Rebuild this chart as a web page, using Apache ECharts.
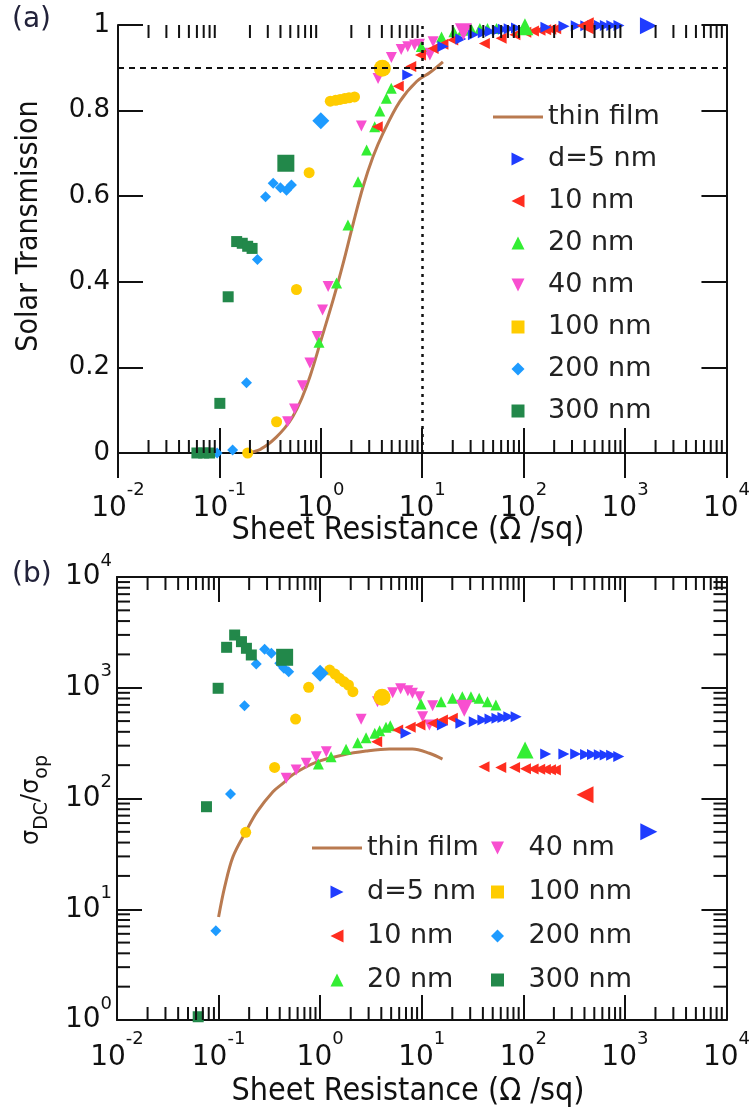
<!DOCTYPE html>
<html>
<head>
<meta charset="utf-8">
<script src="https://cdn.jsdelivr.net/npm/echarts@6/dist/echarts.min.js"></script>
<style>
  html, body { margin: 0; padding: 0; background: #fff; }
  #chart { width: 753px; height: 1116px; }
</style>
</head>
<body>
<div id="chart"></div>
<script>
// ---------- panel (a): sheet resistance (ohm/sq) vs solar transmission ----------
const filmA = [[0.19, 0.0], [0.24, 0.006], [0.3, 0.02], [0.36, 0.036], [0.44, 0.058], [0.53, 0.085], [0.65, 0.128],
  [0.78, 0.178], [1.0, 0.262], [1.32, 0.357], [1.66, 0.443], [2.08, 0.535], [2.61, 0.622], [3.27, 0.692],
  [4.1, 0.747], [6.0, 0.821], [8.8, 0.868], [11.9, 0.889], [16, 0.914]];
const d5A = [[7.2, 0.883], [16, 0.95], [24, 0.967], [32, 0.977], [40, 0.982], [47, 0.985], [55, 0.988], [63, 0.99],
  [72, 0.991], [85, 0.993], [166, 0.995], [250, 0.997], [330, 0.998], [410, 0.998], [480, 0.999], [560, 0.999],
  [640, 0.999], [740, 0.999], [870, 0.999]];
const d5ABig = [[1700, 0.998]];
const r10A = [[3.6, 0.762], [5.8, 0.857], [7.7, 0.903], [9.6, 0.93], [12.8, 0.945], [16, 0.955], [20, 0.965],
  [41, 0.957], [60, 0.969], [82, 0.977], [105, 0.983], [125, 0.986], [145, 0.988], [165, 0.989], [185, 0.99], [207, 0.991]];
const r10ABig = [[405, 0.998]];
const g20A = [[0.96, 0.259], [1.43, 0.397], [1.85, 0.533], [2.33, 0.634], [2.83, 0.708], [3.4, 0.762], [3.82, 0.799],
  [4.43, 0.829], [4.95, 0.852], [9.8, 0.95], [15.5, 0.972], [20.5, 0.984], [25, 0.988], [30.5, 0.99], [37, 0.992],
  [44, 0.992], [54, 0.992]];
const g20ABig = [[103, 0.996]];
const p40A = [[0.47, 0.073], [0.55, 0.103], [0.66, 0.157], [0.78, 0.21], [0.92, 0.272], [1.04, 0.334], [1.18, 0.389],
  [2.51, 0.764], [3.67, 0.875], [4.96, 0.924], [6.2, 0.943], [7.2, 0.949], [8.4, 0.953], [9.4, 0.955], [10.5, 0.934],
  [11.9, 0.93], [12.8, 0.961]];
const p40ABig = [[25.5, 0.984]];
const y100A = [[0.19, 0.0], [0.366, 0.073], [0.575, 0.382], [0.767, 0.655], [1.24, 0.822], [1.4, 0.824], [1.55, 0.826],
  [1.72, 0.828], [1.9, 0.83], [2.15, 0.832]];
const y100ABig = [[4.04, 0.899]];
const b200A = [[0.095, 0.0], [0.135, 0.007], [0.185, 0.164], [0.237, 0.452], [0.285, 0.599], [0.339, 0.63], [0.4, 0.62],
  [0.459, 0.614], [0.513, 0.626]];
const b200ABig = [[1.0, 0.776]];
const s300A = [[0.06, 0.0], [0.07, 0.0], [0.08, 0.0], [0.101, 0.116], [0.122, 0.365], [0.148, 0.494], [0.168, 0.49],
  [0.19, 0.483], [0.21, 0.478]];
const s300ABig = [[0.452, 0.677]];
const targetT = 0.9;
const targetR = 10;

// ---------- panel (b): sheet resistance vs sigma_DC / sigma_op ----------
const filmB = [[0.1, 8.5], [0.115, 16], [0.139, 30], [0.185, 50], [0.24, 76], [0.343, 115], [0.43, 137], [0.54, 165],
  [0.92, 213], [1.67, 247], [2.83, 268], [4.8, 280], [8.1, 280], [11.9, 256], [16, 227]];
const d5B = [[7.0, 388], [16, 461], [24.3, 477], [32.9, 494], [40, 512], [47, 522], [55, 530], [63, 540], [72, 548],
  [85, 548], [166, 252], [251, 252], [328, 252], [410, 250], [480, 249], [560, 248], [640, 247], [740, 246], [870, 240]];
const d5BBig = [[1720, 50]];
const r10B = [[3.6, 326], [5.8, 415], [7.7, 440], [9.6, 461], [12.8, 477], [16, 512], [20, 530], [41, 194], [60, 191],
  [82, 191], [105, 186], [125, 185], [145, 184], [165, 183], [185, 182], [207, 181]];
const r10BBig = [[405, 108]];
const g20B = [[0.96, 205], [1.28, 238], [1.8, 278], [2.34, 319], [2.83, 354], [3.45, 388], [3.85, 410], [4.45, 440],
  [4.9, 455], [9.85, 713], [15.5, 748], [20.1, 802], [25.1, 830], [30.5, 830], [36.8, 802], [44.4, 748], [53.7, 699]];
const g20BBig = [[104, 274]];
const p40B = [[0.463, 152], [0.58, 181], [0.73, 208], [0.916, 238], [1.15, 265], [2.53, 519], [3.67, 748], [5.18, 903],
  [6.2, 980], [7.3, 940], [8.1, 890], [9.5, 830], [10.2, 548], [11.9, 461], [12.8, 689]];
const p40BBig = [[26.2, 652]];
const y100B = [[0.185, 49.5], [0.356, 191], [0.573, 522], [0.77, 1009], [1.24, 1445], [1.4, 1330], [1.55, 1217],
  [1.72, 1130], [1.9, 1059], [2.1, 921]];
const y100BBig = [[4.07, 820]];
const b200B = [[0.094, 6.4], [0.131, 110], [0.18, 689], [0.235, 1638], [0.284, 2223], [0.331, 2047], [0.4, 1663],
  [0.44, 1500], [0.49, 1396]];
const b200BBig = [[1.0, 1350]];
const s300B = [[0.063, 1.07], [0.076, 84.3], [0.099, 989], [0.12, 2318], [0.144, 2993], [0.168, 2607], [0.188, 2271],
  [0.21, 1977]];
const s300BBig = [[0.447, 1884]];

// tick helpers
const xDecades = [0.01, 0.1, 1, 10, 100, 1000];
const yDecadesB = [1, 10, 100, 1000];
const minorSteps = [2, 3, 4, 5, 6, 7, 8, 9];

const names = ['thin film', 'd=5 nm', '10 nm', '20 nm', '40 nm', '100 nm', '200 nm', '300 nm'];
const colors = {
  film: '#b97a50', d5: '#1f3cff', r10: '#ff2d1f', g20: '#33ee33',
  p40: '#f84fd0', y100: '#ffcc00', b200: '#1e9bff', s300: '#22884a'
};
const symbols = {
  d5: 'path://M0,0L10,5L0,10Z',
  r10: 'path://M10,0L0,5L10,10Z',
  g20: 'path://M5,0L10,10L0,10Z',
  p40: 'path://M0,0L10,0L5,10Z',
  y100: 'circle',
  b200: 'path://M5,0L10,5L5,10L0,5Z',
  s300: 'path://M0,0L10,0L10,10L0,10Z'
};
const legendIcons = {
  'thin film': 'path://M0,0L50,0L50,3L0,3Z',
  '100 nm': 'path://M0,0L10,0L10,10L0,10Z'
};
const SMALL = 11;
const BIG = 17;
const INK = '#111';
const SANS = '"DejaVu Sans", Verdana, sans-serif';
const COND = '"DejaVu Sans Condensed", "DejaVu Sans", sans-serif';

const minorX = [];
xDecades.forEach(d => minorSteps.forEach(m => minorX.push(m * d)));
const minorYB = [];
yDecadesB.forEach(d => minorSteps.forEach(m => minorYB.push(m * d)));

function scatter(name, key, data, size, ax) {
  return {
    type: 'scatter', name: name, data: data, symbol: symbols[key], symbolSize: size,
    xAxisIndex: ax, yAxisIndex: ax, itemStyle: { color: colors[key], opacity: 1 },
    emphasis: { disabled: true }, z: 3
  };
}

function film(data, ax, extra) {
  return Object.assign({
    type: 'line', name: 'thin film', data: data, symbol: 'none', showSymbol: false, smooth: 0.35,
    xAxisIndex: ax, yAxisIndex: ax, lineStyle: { color: colors.film, width: 3 },
    itemStyle: { color: colors.film }, emphasis: { disabled: true }, z: 3
  }, extra || {});
}

// minor ticks drawn through the axis scales
function minorTicks(dir, ref, ax, values) {
  return {
    type: 'custom', silent: true, clip: false, z: 6, xAxisIndex: ax, yAxisIndex: ax,
    data: values.map(v => dir === 'x' ? [v, ref] : [ref, v]),
    encode: { x: 0, y: 1 },
    renderItem: function (params, api) {
      const cs = params.coordSys;
      const st = { stroke: INK, lineWidth: 2 };
      const p = api.coord([api.value(0), api.value(1)]);
      if (dir === 'x') {
        return { type: 'group', children: [
          { type: 'line', shape: { x1: p[0], y1: cs.y + cs.height, x2: p[0], y2: cs.y + cs.height - 13 }, style: st },
          { type: 'line', shape: { x1: p[0], y1: cs.y, x2: p[0], y2: cs.y + 13 }, style: st }
        ] };
      }
      return { type: 'group', children: [
        { type: 'line', shape: { x1: cs.x, y1: p[1], x2: cs.x + 13, y2: p[1] }, style: st },
        { type: 'line', shape: { x1: cs.x + cs.width, y1: p[1], x2: cs.x + cs.width - 13, y2: p[1] }, style: st }
      ] };
    }
  };
}

function powLabel(v) {
  const e = Math.round(Math.log10(v));
  return '{b|10}{s|' + e + '}';
}

const tickStyle = { show: true, inside: true, length: 25, lineStyle: { color: INK, width: 2 } };
const lineStyle = { show: true, lineStyle: { color: INK, width: 2 } };

function logX(grid, pos, showLabel, margin) {
  return {
    type: 'log', logBase: 10, min: 0.01, max: 10000, splitNumber: 6, gridIndex: grid, position: pos,
    axisLine: lineStyle, axisTick: tickStyle, splitLine: { show: false }, minorTick: { show: false },
    axisLabel: {
      show: showLabel, margin: margin, formatter: powLabel, color: INK,
      rich: {
        b: { fontSize: 28, fontFamily: SANS, lineHeight: 56, color: INK },
        s: { fontSize: 18, fontFamily: SANS, lineHeight: 18, verticalAlign: 'top', color: INK }
      }
    }
  };
}

const legendText = { fontSize: 27, fontFamily: SANS, color: '#222', lineHeight: 28 };
function legendData(list) {
  return list.map(n => legendIcons[n] ? { name: n, icon: legendIcons[n] } : n);
}

const option = {
  animation: false,
  backgroundColor: '#ffffff',
  grid: [
    { left: 118, top: 25, width: 609, height: 428 },
    { left: 117, top: 577, width: 611, height: 443 }
  ],
  xAxis: [
    logX(0, 'bottom', true, 28),
    logX(0, 'top', false, 8),
    logX(1, 'bottom', true, 10),
    logX(1, 'top', false, 8)
  ],
  yAxis: [
    { type: 'value', min: 0, max: 1, interval: 0.2, gridIndex: 0, position: 'left',
      axisLine: lineStyle, axisTick: tickStyle, splitLine: { show: false },
      axisLabel: { margin: 8, fontSize: 26, fontFamily: SANS, color: INK } },
    { type: 'value', min: 0, max: 1, interval: 0.2, gridIndex: 0, position: 'right',
      axisLine: lineStyle, axisTick: tickStyle, splitLine: { show: false }, axisLabel: { show: false } },
    { type: 'log', logBase: 10, min: 1, max: 10000, splitNumber: 4, gridIndex: 1, position: 'left',
      axisLine: lineStyle, axisTick: tickStyle, splitLine: { show: false },
      axisLabel: {
        margin: 5, formatter: powLabel, color: INK,
        rich: {
          b: { fontSize: 28, fontFamily: SANS, lineHeight: 50, color: INK },
          s: { fontSize: 18, fontFamily: SANS, lineHeight: 18, verticalAlign: 'top', color: INK }
        }
      } },
    { type: 'log', logBase: 10, min: 1, max: 10000, splitNumber: 4, gridIndex: 1, position: 'right',
      axisLine: lineStyle, axisTick: tickStyle, splitLine: { show: false }, axisLabel: { show: false } }
  ],
  legend: [
    { data: legendData(names), orient: 'vertical', left: 488, top: 98, itemWidth: 50, itemHeight: 13,
      itemGap: 14, selectedMode: false, textStyle: legendText },
    { data: legendData(names.slice(0, 4)), orient: 'vertical', left: 307, top: 829, itemWidth: 50, itemHeight: 13,
      itemGap: 16, selectedMode: false, textStyle: legendText },
    { data: legendData(names.slice(4)), orient: 'vertical', left: 486, top: 829, itemWidth: 28, itemHeight: 13,
      itemGap: 16, selectedMode: false, textStyle: Object.assign({ padding: [0, 0, 0, 12] }, legendText) }
  ],
  graphic: [
    { type: 'text', x: 12, y: 6, style: { text: '(a)', font: '28px ' + SANS, fill: '#22223a' } },
    { type: 'text', x: 12, y: 561, style: { text: '(b)', font: '28px ' + SANS, fill: '#22223a' } },
    { type: 'text', x: 29, y: 226, rotation: Math.PI / 2,
      style: { text: 'Solar Transmission', font: '30px ' + COND, fill: INK, align: 'center', verticalAlign: 'middle' } },
    { type: 'text', x: 408, y: 531,
      style: { text: 'Sheet Resistance (\u03A9 /sq)', font: '32px ' + COND, fill: INK, align: 'center', verticalAlign: 'middle' } },
    { type: 'text', x: 408, y: 1092,
      style: { text: 'Sheet Resistance (\u03A9 /sq)', font: '32px ' + COND, fill: INK, align: 'center', verticalAlign: 'middle' } },
    { type: 'text', x: 32, y: 800, rotation: Math.PI / 2,
      style: {
        text: '{m|\u03C3}{s|DC}{m|/\u03C3}{s|op}', align: 'center', verticalAlign: 'middle',
        rich: {
          m: { fontSize: 24, fontFamily: SANS, lineHeight: 40, fill: INK },
          s: { fontSize: 19, fontFamily: SANS, lineHeight: 19, verticalAlign: 'bottom', fill: INK }
        }
      } }
  ],
  series: [
    // panel (a)
    scatter('40 nm', 'p40', p40A, SMALL, 0),
    film(filmA, 0, {
      markLine: {
        silent: true, symbol: 'none', label: { show: false }, animation: false,
        lineStyle: { color: INK, width: 2 },
        data: [
          { yAxis: targetT, lineStyle: { type: [6, 5], color: INK, width: 2 } },
          { xAxis: targetR, lineStyle: { type: [3, 5], color: INK, width: 2.5 } }
        ]
      }
    }),
    scatter('20 nm', 'g20', g20A, SMALL, 0),
    scatter('10 nm', 'r10', r10A, SMALL, 0),
    scatter('d=5 nm', 'd5', d5A, SMALL, 0),
    scatter('100 nm', 'y100', y100A, SMALL, 0),
    scatter('200 nm', 'b200', b200A, SMALL, 0),
    scatter('300 nm', 's300', s300A, SMALL, 0),
    scatter('40 nm', 'p40', p40ABig, BIG, 0),
    scatter('20 nm', 'g20', g20ABig, BIG, 0),
    scatter('10 nm', 'r10', r10ABig, BIG, 0),
    scatter('d=5 nm', 'd5', d5ABig, BIG, 0),
    scatter('100 nm', 'y100', y100ABig, BIG, 0),
    scatter('200 nm', 'b200', b200ABig, BIG, 0),
    scatter('300 nm', 's300', s300ABig, BIG, 0),
    minorTicks('x', 0.5, 0, minorX),
    // panel (b)
    scatter('40 nm', 'p40', p40B, SMALL, 2),
    film(filmB, 2),
    scatter('20 nm', 'g20', g20B, SMALL, 2),
    scatter('10 nm', 'r10', r10B, SMALL, 2),
    scatter('d=5 nm', 'd5', d5B, SMALL, 2),
    scatter('100 nm', 'y100', y100B, SMALL, 2),
    scatter('200 nm', 'b200', b200B, SMALL, 2),
    scatter('300 nm', 's300', s300B, SMALL, 2),
    scatter('40 nm', 'p40', p40BBig, BIG, 2),
    scatter('20 nm', 'g20', g20BBig, BIG, 2),
    scatter('10 nm', 'r10', r10BBig, BIG, 2),
    scatter('d=5 nm', 'd5', d5BBig, BIG, 2),
    scatter('100 nm', 'y100', y100BBig, BIG, 2),
    scatter('200 nm', 'b200', b200BBig, BIG, 2),
    scatter('300 nm', 's300', s300BBig, BIG, 2),
    minorTicks('x', 10, 2, minorX),
    minorTicks('y', 1, 2, minorYB)
  ]
};

const chart = echarts.init(document.getElementById('chart'), null, { renderer: 'canvas' });
chart.setOption(option);
</script>
</body>
</html>
